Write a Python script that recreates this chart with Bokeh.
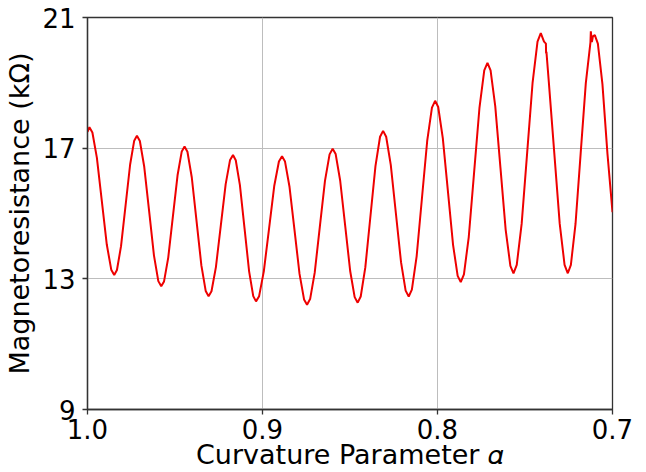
from bokeh.plotting import figure
from bokeh.models import Range1d, FixedTicker
from bokeh.embed import file_html
from bokeh.resources import INLINE

# Curvature parameter alpha (x) and magnetoresistance in kOhm (y)
alpha = [
    1.0000, 0.9989,
    0.9972, 0.99465, 0.99181, 0.98898, 0.98643, 0.98473,
    0.98317, 0.98084, 0.97824, 0.97564, 0.97331, 0.97175,
    0.97008, 0.96758, 0.96480, 0.96203, 0.95953, 0.95786,
    0.95626, 0.95386, 0.95120, 0.94854, 0.94614, 0.94454,
    0.94289, 0.94042, 0.93767, 0.93493, 0.93246, 0.93081,
    0.92914, 0.92662, 0.92383, 0.92104, 0.91853, 0.91686,
    0.91528, 0.91291, 0.91028, 0.90765, 0.90529, 0.90371,
    0.90193, 0.89925, 0.89627, 0.89330, 0.89062, 0.88884,
    0.88713, 0.88455, 0.88169, 0.87884, 0.87626, 0.87455,
    0.87279, 0.87016, 0.86723, 0.86430, 0.86167, 0.85991,
    0.85819, 0.85562, 0.85276, 0.84990, 0.84733, 0.84561,
    0.84387, 0.84125, 0.83835, 0.83545, 0.83283, 0.83109,
    0.82933, 0.82670, 0.82377, 0.82084, 0.81821, 0.81645,
    0.81464, 0.81192, 0.80890, 0.80589, 0.80317, 0.80136,
    0.79960, 0.79697, 0.79404, 0.79111, 0.78848, 0.78672,
    0.78489, 0.78214, 0.77908, 0.77603, 0.77328, 0.77145,
    0.76967, 0.76699, 0.76401, 0.76104, 0.75836, 0.75658,
    0.75471, 0.75190, 0.74878, 0.74566, 0.74285, 0.74098,
    0.73913, 0.73805, 0.73795, 0.73775, 0.73635, 0.73326, 0.73017, 0.72739, 0.72554,
    0.72378, 0.72113, 0.71819, 0.71525, 0.71260, 0.71238, 0.71180, 0.71120, 0.71010,
    0.70836, 0.70575, 0.70285, 0.70000,
]
resistance = [
    17.50, 17.64,
    17.48, 16.71, 15.38, 14.05, 13.28, 13.12,
    13.27, 14.00, 15.25, 16.50, 17.23, 17.38,
    17.22, 16.43, 15.08, 13.72, 12.93, 12.77,
    12.92, 13.65, 14.91, 16.17, 16.90, 17.05,
    16.89, 16.11, 14.76, 13.41, 12.63, 12.47,
    12.62, 13.36, 14.63, 15.90, 16.64, 16.79,
    16.63, 15.87, 14.55, 13.23, 12.47, 12.31,
    12.47, 13.23, 14.53, 15.84, 16.59, 16.75,
    16.59, 15.81, 14.48, 13.15, 12.37, 12.21,
    12.38, 13.19, 14.60, 16.00, 16.81, 16.98,
    16.82, 16.01, 14.63, 13.24, 12.44, 12.27,
    12.46, 13.35, 14.90, 16.45, 17.35, 17.53,
    17.35, 16.49, 15.00, 13.51, 12.64, 12.46,
    12.67, 13.69, 15.46, 17.22, 18.24, 18.45,
    18.26, 17.31, 15.68, 14.04, 13.09, 12.90,
    13.14, 14.28, 16.26, 18.23, 19.38, 19.61,
    19.38, 18.28, 16.39, 14.50, 13.40, 13.17,
    13.43, 14.69, 16.85, 19.01, 20.26, 20.52,
    20.26, 20.20, 19.90, 19.95, 19.00, 16.85, 14.69, 13.43, 13.17,
    13.43, 14.68, 16.84, 18.99, 20.24, 20.58, 20.25, 20.42, 20.46,
    20.20, 18.96, 16.81, 15.04,
]

x_ticks = [1.0, 0.9, 0.8, 0.7]
y_ticks = [9, 13, 17, 21]
x_tick_labels = {1.0: "1.0", 0.9: "0.9", 0.8: "0.8", 0.7: "0.7"}
x_title = "Curvature Parameter 𝛼"
y_title = "Magnetoresistance (kΩ)"

p = figure(width=646, height=472, output_backend="svg", toolbar_location=None,
           x_range=Range1d(1.0, 0.7), y_range=Range1d(9, 21),
           min_border_left=87, min_border_right=34, min_border_top=17, min_border_bottom=63)

p.line(alpha, resistance, line_color="#ee0000", line_width=2)

font = "DejaVu Sans"
for ax in (p.xaxis, p.yaxis):
    ax.major_label_text_font = font
    ax.major_label_text_font_size = "26px"
    ax.major_label_text_color = "black"
    ax.axis_label_text_font = font
    ax.axis_label_text_font_size = "27px"
    ax.axis_label_text_font_style = "normal"
    ax.axis_label_text_color = "black"
    ax.axis_label_text_line_height = 1.0
    ax.axis_line_color = "#333333"
    ax.axis_line_width = 1.3
    ax.major_tick_line_color = "#333333"
    ax.major_tick_line_width = 1.3
    ax.major_tick_out = 5
    ax.major_tick_in = 0
    ax.minor_tick_line_color = None

p.xaxis.ticker = FixedTicker(ticks=x_ticks)
p.xaxis.major_label_overrides = {k: v for k, v in x_tick_labels.items()}
p.yaxis.ticker = FixedTicker(ticks=y_ticks)
p.xaxis.axis_label = x_title
p.yaxis.axis_label = y_title
p.xaxis.major_label_standoff = 4
p.xaxis.axis_label_standoff = -3
p.yaxis.major_label_standoff = 7
p.yaxis.axis_label_standoff = 4

p.xgrid.ticker = FixedTicker(ticks=x_ticks)
p.ygrid.ticker = FixedTicker(ticks=y_ticks)
p.grid.grid_line_color = "#bdbdbd"
p.grid.grid_line_width = 1

p.outline_line_color = "#333333"
p.outline_line_width = 1.3
p.outline_line_alpha = 1.0
p.background_fill_color = "white"
p.border_fill_color = "white"

open("out.html", "w").write(file_html(p, INLINE))
